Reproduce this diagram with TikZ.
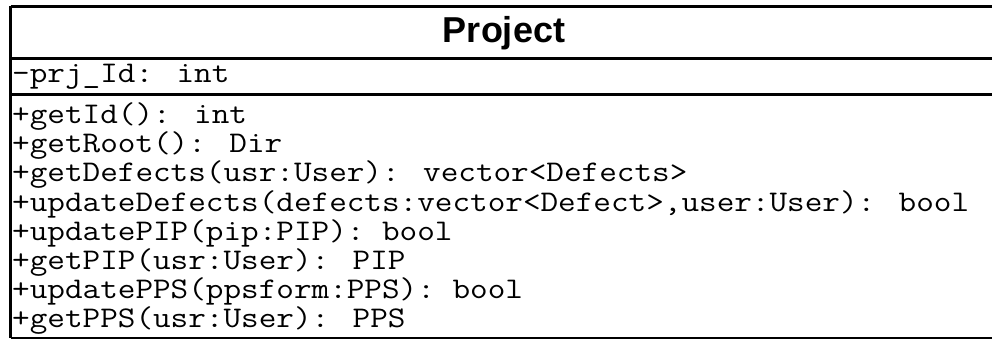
\documentclass[tikz,border=0pt]{standalone}
\usepackage{fontspec}
\setmainfont{Liberation Sans}
\begin{document}
\begin{tikzpicture}[x=1pt,y=-1pt,
  title/.style={font=\fontsize{36}{40}\selectfont\bfseries,inner sep=0pt,anchor=base},
  member/.style={font=\ttfamily\fontsize{30}{32}\selectfont,inner sep=0pt,anchor=base west,xscale=1.14,transform shape},
  border/.style={line width=3pt}]
\fill[white] (0,0) rectangle (992,339);
\useasboundingbox (0,0) rectangle (992,339);
\clip (0,0) rectangle (992,339);
\draw[border] (10.5,6.5) -- (1000,6.5);
\draw[border] (10.5,6.5) -- (10.5,338);
\draw[border] (10.5,338) -- (1000,338);
\draw[border] (10.5,58.5) -- (1000,58.5);
\draw[border] (10.5,95) -- (1000,95);
\node[title] (t) at (504,43) {Project};
\node[member] (a1) at (12,83) {-prj\_Id: int};
\node[member] (m1) at (12,124) {+getId(): int};
\node[member] (m2) at (12,153) {+getRoot(): Dir};
\node[member] (m3) at (12,182) {+getDefects(usr:User): vector<Defects>};
\node[member] (m4) at (12,211) {+updateDefects(defects:vector<Defect>,user:User): bool};
\node[member] (m5) at (12,240) {+updatePIP(pip:PIP): bool};
\node[member] (m6) at (12,269) {+getPIP(usr:User): PIP};
\node[member] (m7) at (12,298) {+updatePPS(ppsform:PPS): bool};
\node[member] (m8) at (12,327) {+getPPS(usr:User): PPS};
\end{tikzpicture}
\end{document}
